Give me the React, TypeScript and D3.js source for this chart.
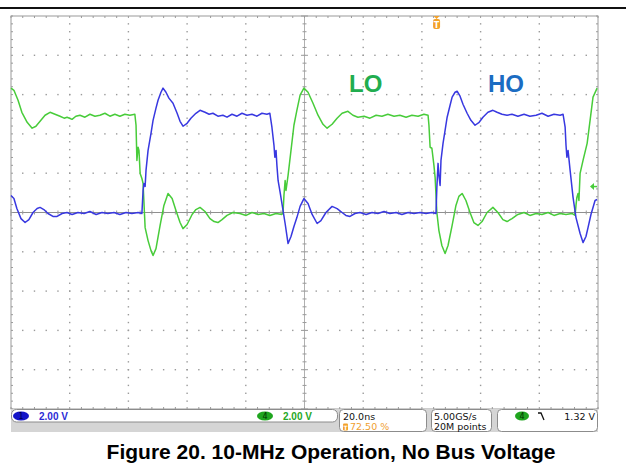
import React from 'react';
import * as d3 from 'd3';

// LO gate trace (channel 4, green): [time ns, volts]
const loTrace: [number, number][] = [
  [0,6.33],[1.0,6.22],[2.4,5.71],[3.7,5.10],[5.5,4.59],[7.2,4.29],[8.5,4.39],[9.9,4.64],[11.6,4.95],[13.3,5.10],
  [15.0,5.0],[16.7,4.90],[18.1,4.80],[19.1,4.85],[20.8,4.74],[22.1,4.90],[23.5,4.95],[25.2,4.85],[26.9,5.0],[28.6,4.90],
  [30.3,4.95],[32.0,5.05],[33.7,4.90],[35.4,5.0],[37.1,4.90],[38.8,5.0],[40.5,4.95],[42.2,5.0],[42.6,4.44],[42.9,2.65],
  [43.3,3.32],[43.6,3.16],[44.0,1.99],[44.6,1.73],[45.0,1.48],[45.7,-0.77],[46.7,-1.43],[47.7,-1.94],[48.4,-2.19],[49.4,-1.84],
  [50.8,-0.66],[52.1,0.36],[53.5,0.97],[54.9,0.71],[56.2,0.10],[57.6,-0.51],[58.6,-0.82],[60.0,-0.61],[61.7,-0.10],[63.0,0.15],
  [64.4,0.26],[66.1,0.05],[67.8,-0.31],[69.2,-0.46],[70.5,-0.51],[71.9,-0.36],[73.6,-0.15],[75.6,0],[78.0,-0.05],[80.1,-0.15],
  [82.1,0],[84.2,-0.10],[86.2,-0.05],[88.2,-0.15],[90.3,-0.05],[92.3,-0.10],[92.7,0],[93.0,0.87],[93.4,1.63],[93.7,1.12],
  [94.4,1.89],[95.4,3.16],[96.4,4.44],[97.4,5.20],[98.5,5.97],[99.8,6.33],[101.2,6.12],[102.9,5.56],[104.6,4.95],[106.3,4.49],
  [107.7,4.29],[109.4,4.49],[111.1,4.80],[112.8,5.05],[114.8,5.15],[116.5,4.95],[118.2,4.85],[120.3,4.90],[122.3,4.80],[124.4,4.95],
  [126.4,4.90],[128.4,5.0],[130.5,4.90],[132.5,4.95],[134.6,4.85],[136.6,4.95],[138.7,4.90],[140.7,5.0],[142.1,4.95],[142.4,4.44],
  [142.8,3.32],[143.4,3.27],[144.1,2.40],[144.5,1.79],[145.1,0],[145.8,-0.92],[146.8,-1.68],[147.9,-2.09],[148.9,-1.68],[150.3,-0.66],
  [151.6,0.36],[152.6,0.82],[153.7,0.97],[155.0,0.61],[156.4,0],[157.7,-0.51],[159.1,-0.66],[160.5,-0.46],[162.2,0],[164.2,0.26],
  [165.9,0],[167.6,-0.36],[169.0,-0.46],[170.7,-0.31],[172.7,-0.10],[174.8,0],[176.8,-0.15],[178.9,-0.05],[180.9,-0.10],[183.0,0],
  [185.0,-0.15],[187.1,-0.05],[189.1,-0.10],[191.1,-0.05],[192.2,-0.15],[192.5,0.36],[192.8,0.77],[193.2,0.97],[193.5,0.61],[193.9,1.99],
  [194.9,2.65],[196.3,3.52],[197.3,4.69],[198.3,5.87],[199.7,6.33]
];

// HO gate trace (channel 1, blue): [time ns, volts]
const hoTrace: [number, number][] = [
  [0,0.87],[1.0,0.71],[2.0,0.20],[3.4,-0.31],[4.8,-0.51],[6.1,-0.36],[7.5,0],[8.9,0.20],[9.9,0.26],[11.2,0.15],
  [12.6,-0.05],[14.3,-0.20],[15.7,-0.20],[17.4,-0.05],[19.1,0],[20.8,-0.10],[22.8,0],[24.9,-0.05],[26.9,0.05],[29.0,-0.10],
  [31.0,0],[33.0,-0.05],[35.1,0],[37.1,-0.10],[39.2,0],[41.2,-0.05],[43.3,0],[44.6,-0.05],[45.0,1.12],[45.3,1.48],
  [45.7,1.33],[46.0,2.14],[46.7,3.16],[47.7,4.03],[48.4,4.69],[49.4,5.31],[50.1,5.71],[51.1,6.12],[51.8,6.33],[52.8,6.12],
  [53.8,5.82],[55.2,5.56],[56.6,5.05],[57.6,4.64],[58.6,4.39],[60.0,4.54],[61.3,4.80],[63.0,5.05],[64.4,5.20],[66.1,5.10],
  [67.5,5.0],[68.8,5.05],[70.5,4.90],[72.2,4.95],[73.6,4.85],[75.3,5.0],[77.0,4.90],[78.7,5.05],[80.4,4.95],[82.1,5.0],
  [83.8,4.90],[85.5,5.05],[87.2,5.0],[88.2,5.05],[88.9,4.34],[89.6,3.42],[89.9,2.81],[90.3,3.16],[90.6,2.40],[91.0,1.63],
  [91.7,1.02],[92.3,0.46],[93.4,-0.56],[94.4,-1.58],[95.4,-1.22],[96.4,-0.71],[97.4,-0.26],[98.5,0.31],[99.8,0.71],[101.2,0.46],
  [102.6,-0.10],[104.3,-0.56],[105.6,-0.41],[107.3,0],[109.4,0.31],[111.1,0.20],[112.8,0],[114.1,-0.15],[115.5,-0.20],[117.2,-0.05],
  [118.9,0],[121.0,-0.10],[123.0,0],[125.0,-0.05],[127.1,0.05],[129.1,-0.05],[131.2,0],[133.2,-0.10],[135.3,0],[137.3,-0.05],
  [139.4,0],[141.4,-0.05],[143.4,0],[144.8,-0.05],[145.1,1.28],[145.5,2.50],[145.8,1.89],[146.2,1.38],[146.5,2.65],[147.2,3.52],
  [147.9,4.18],[148.6,4.85],[149.6,5.46],[150.3,5.87],[151.3,6.12],[152.0,6.17],[153.0,5.92],[154.0,5.51],[155.4,5.05],[156.7,4.69],
  [158.1,4.44],[159.5,4.59],[160.8,4.85],[162.5,5.10],[164.2,5.20],[165.6,5.10],[167.3,5.0],[169.0,4.95],[170.7,5.0],[172.7,4.90],
  [174.8,5.0],[176.8,4.90],[178.9,4.95],[180.9,5.05],[183.0,4.90],[185.0,5.0],[187.1,4.95],[188.1,5.0],[188.8,4.34],[189.1,3.42],
  [189.4,2.81],[189.8,3.16],[190.5,2.14],[191.5,0.77],[192.5,-0.26],[193.9,-1.07],[194.9,-1.53],[195.9,-1.22],[196.6,-0.77],[197.6,-0.10],
  [199.0,0.61],[199.7,0.66]
];

// Scope settings / readouts
const timeRange: [number, number] = [0, 200];   // 20.0 ns/div x 10
const voltRange: [number, number] = [-10, 10];  // 2.00 V/div x 10
const timePerDiv = 20;
const voltPerDiv = 2;
const minorPerDiv = 5;
const triggerPct = 72.5;
const triggerLevel = 1.32;
const traceLabels = ['LO', 'HO'];
const ch1Scale = '2.00 V';
const ch4Scale = '2.00 V';
const timebase = '20.0ns';
const triggerPosLabel = '72.50 %';
const sampleRate = '5.00GS/s';
const recordLen = '20M points';
const trigLevelLabel = '1.32 V';
const caption = 'Figure 20. 10-MHz Operation, No Bus Voltage';

const W = 626, H = 476;
const L = 11, R = 598, T = 16, B = 409;
const GREEN = '#48cc3a';
const BLUE = '#3838e0';
const GRID = '#9a9a9a';

export default function App() {
  const x = d3.scaleLinear().domain(timeRange).range([L, R]);
  const y = d3.scaleLinear().domain(voltRange).range([B, T]);
  const line = d3.line<[number, number]>().x(d => x(d[0])).y(d => y(d[1]));

  const majorT = d3.range(timeRange[0], timeRange[1] + 0.001, timePerDiv);
  const majorV = d3.range(voltRange[0], voltRange[1] + 0.001, voltPerDiv);
  const minorT = d3.range(timeRange[0], timeRange[1] + 0.001, timePerDiv / minorPerDiv);
  const minorV = d3.range(voltRange[0], voltRange[1] + 0.0001, voltPerDiv / minorPerDiv);
  const tMid = (timeRange[0] + timeRange[1]) / 2;

  const dots: JSX.Element[] = [];
  majorV.forEach((v, i) => {
    if (i === 0 || i === majorV.length - 1 || Math.abs(v) < 1e-6) return;
    minorT.forEach((t, j) => {
      if (j === 0 || j === minorT.length - 1) return;
      dots.push(<rect key={`h${i}-${j}`} x={x(t) - 0.7} y={y(v) - 0.7} width={1.4} height={1.4} fill={GRID} />);
    });
  });
  majorT.forEach((t, i) => {
    if (i === 0 || i === majorT.length - 1 || Math.abs(t - tMid) < 1e-6) return;
    minorV.forEach((v, j) => {
      if (j === 0 || j === minorV.length - 1) return;
      dots.push(<rect key={`v${i}-${j}`} x={x(t) - 0.7} y={y(v) - 0.7} width={1.4} height={1.4} fill={GRID} />);
    });
  });

  const ticks: JSX.Element[] = [];
  minorT.forEach((t, j) => {
    ticks.push(<line key={`tt${j}`} x1={x(t)} x2={x(t)} y1={T} y2={T + 2} stroke={GRID} />);
    ticks.push(<line key={`tb${j}`} x1={x(t)} x2={x(t)} y1={B} y2={B - 2} stroke={GRID} />);
    const big = j % minorPerDiv === 0 ? 3.5 : 2;
    ticks.push(<line key={`tc${j}`} x1={x(t)} x2={x(t)} y1={y(0) - big} y2={y(0) + big} stroke={GRID} />);
  });
  minorV.forEach((v, j) => {
    ticks.push(<line key={`vl${j}`} x1={L} x2={L + 2} y1={y(v)} y2={y(v)} stroke={GRID} />);
    ticks.push(<line key={`vr${j}`} x1={R} x2={R - 2} y1={y(v)} y2={y(v)} stroke={GRID} />);
    const big = j % minorPerDiv === 0 ? 3.5 : 2;
    ticks.push(<line key={`vc${j}`} x1={x(tMid) - big} x2={x(tMid) + big} y1={y(v)} y2={y(v)} stroke={GRID} />);
  });

  const trigX = x(timeRange[0] + (triggerPct / 100) * (timeRange[1] - timeRange[0]));
  const trigY = y(triggerLevel);
  const sf = "'DejaVu Sans', Verdana, sans-serif";
  const bf = "'Liberation Sans', Arial, sans-serif";

  return (
    <svg width={W} height={H} style={{ position: 'absolute', left: 0, top: 0, background: '#fff' }}>
      <rect x={0} y={0} width={W} height={H} fill="#fff" />
      <rect x={0} y={7} width={W} height={2} fill="#111" />
      {/* graticule */}
      <rect x={L} y={T} width={R - L} height={B - T} fill="#fff" stroke="#9a9a9a" strokeWidth={1} />
      {dots}
      <line x1={L} x2={R} y1={y(0)} y2={y(0)} stroke="#8f8f8f" strokeWidth={1} />
      <line x1={x(tMid)} x2={x(tMid)} y1={T} y2={B} stroke="#b0b0b0" strokeWidth={1} />
      {ticks}
      {/* traces */}
      <path d={line(loTrace) ?? ''} fill="none" stroke={GREEN} strokeWidth={1.5} strokeLinejoin="round" />
      <path d={line(hoTrace) ?? ''} fill="none" stroke={BLUE} strokeWidth={1.5} strokeLinejoin="round" />
      {/* labels */}
      <text x={349} y={92} fontFamily={bf} fontWeight="bold" fontSize={24} fill="#21ad4f">{traceLabels[0]}</text>
      <text x={488} y={92} fontFamily={bf} fontWeight="bold" fontSize={24} fill="#1b6cc2">{traceLabels[1]}</text>
      {/* trigger position marker */}
      <g fill="#f3a12a">
        <path d={`M${trigX - 3},${T} L${trigX + 3},${T} L${trigX},${T + 3} Z`} />
        <rect x={trigX - 3.5} y={T + 3} width={7} height={10} rx={2} />
      </g>
      <text x={trigX} y={T + 11.5} textAnchor="middle" fontFamily={sf} fontSize={8} fontWeight="bold" fill="#fff">T</text>
      {/* trigger level marker */}
      <path d={`M${R - 8},${trigY} L${R - 4},${trigY - 3.5} L${R - 4},${trigY + 3.5} Z`} fill={GREEN} />
      <line x1={R - 5} x2={R - 1} y1={trigY} y2={trigY} stroke={GREEN} strokeWidth={1.5} />
      {/* status bar */}
      <rect x={L} y={B} width={R - L} height={23} fill="#d5d5d5" />
      <rect x={L + 0.5} y={B + 0.5} width={326} height={12.5} rx={5} fill="#fff" stroke="#8c8c8c" />
      <rect x={339.5} y={B + 0.5} width={87} height={22} rx={4} fill="#fff" stroke="#8c8c8c" />
      <rect x={431.5} y={B + 0.5} width={60} height={22} rx={4} fill="#fff" stroke="#8c8c8c" />
      <rect x={497.5} y={B + 0.5} width={100} height={22} rx={4} fill="#fff" stroke="#8c8c8c" />
      <ellipse cx={21} cy={416} rx={8} ry={4.6} fill="#1414c8" />
      <text x={21} y={419.3} textAnchor="middle" fontFamily={sf} fontSize={8} fill="#000050">1</text>
      <text x={39} y={420} fontFamily={bf} fontWeight="bold" fontSize={10} fill="#2b2bd6">{ch1Scale}</text>
      <ellipse cx={265} cy={416} rx={8} ry={4.6} fill="#1fa51f" />
      <text x={265} y={419.3} textAnchor="middle" fontFamily={sf} fontSize={8} fill="#003300">4</text>
      <text x={283} y={420} fontFamily={bf} fontWeight="bold" fontSize={10} fill="#25a825">{ch4Scale}</text>
      <text x={343} y={419.5} fontFamily={sf} fontSize={9.5} fill="#111">{timebase}</text>
      <rect x={343} y={423.5} width={5} height={7} rx={1} fill="#f3a12a" />
      <text x={345.5} y={429.5} textAnchor="middle" fontFamily={sf} fontSize={6} fontWeight="bold" fill="#fff">T</text>
      <text x={350} y={430} fontFamily={sf} fontSize={9.5} fill="#f0a030">{triggerPosLabel}</text>
      <text x={434} y={419.5} fontFamily={sf} fontSize={9.5} fill="#111">{sampleRate}</text>
      <text x={434} y={430} fontFamily={sf} fontSize={9.5} fill="#111">{recordLen}</text>
      <ellipse cx={522} cy={416} rx={7} ry={4.6} fill="#1fa51f" />
      <text x={522} y={419.3} textAnchor="middle" fontFamily={sf} fontSize={8} fill="#003300">4</text>
      <path d="M538,413 L541,413 L544,420" fill="none" stroke="#111" strokeWidth={1.3} />
      <text x={595} y={419.5} textAnchor="end" fontFamily={sf} fontSize={9.5} fill="#111">{trigLevelLabel}</text>
      {/* caption */}
      <text x={331} y={459} textAnchor="middle" fontFamily={bf} fontWeight="bold" fontSize={21} fill="#000">{caption}</text>
    </svg>
  );
}
